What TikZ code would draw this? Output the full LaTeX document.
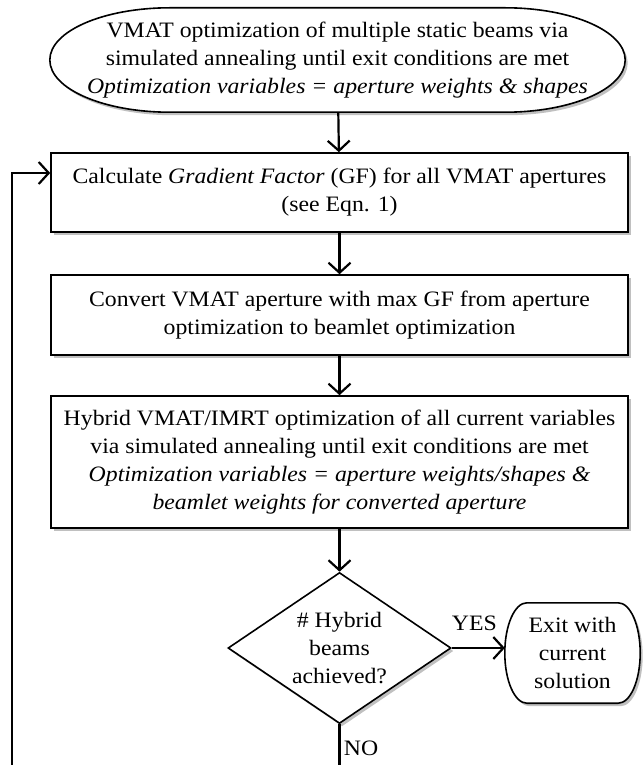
\documentclass[tikz,border=0pt]{standalone}
\usepackage{fontspec}
\setmainfont{Liberation Serif}[FakeStretch=1.08]
\usetikzlibrary{positioning, shapes, arrows.meta, calc, shadows}

\begin{document}
\begin{tikzpicture}[x=1pt, y=-1pt,
    every node/.style={font=\fontsize{22}{28}\selectfont},
    shade/.style={drop shadow={shadow xshift=2.5pt, shadow yshift=-3pt, fill=black!45, opacity=0.55}},
    outline/.style={draw, line width=1.6pt, fill=white, shade},
    plain/.style={rectangle, inner sep=0pt, align=center},
    box/.style={rectangle, outline, minimum width=577pt, align=center},
    decision/.style={diamond, outline, inner sep=0pt, aspect=1.48, minimum width=223pt, minimum height=151pt, align=center},
    line/.style={line width=2.2pt},
    flow/.style={line, -{Straight Barb[length=10pt, width=22pt, line width=2.2pt]}}]
    \useasboundingbox (0,0) rectangle (644,765);

    % Oval start
    \path (337.5,60) node[plain, minimum width=575pt, minimum height=104pt] (start) {};
    \draw[outline] ([xshift=120pt]start.north west) -- ([xshift=-120pt]start.north east)
        .. controls +(66,0) and +(0,-29) .. (start.east)
        .. controls +(0,29) and +(66,0) .. ([xshift=-120pt]start.south east)
        -- ([xshift=120pt]start.south west)
        .. controls +(-66,0) and +(0,29) .. (start.west)
        .. controls +(0,-29) and +(-66,0) .. ([xshift=120pt]start.north west) -- cycle;
    \node[plain] at (start.center) {VMAT optimization of multiple static beams via\\simulated annealing until exit conditions are met\\\textit{Optimization variables = aperture weights \& shapes}};

    % Boxes
    \node[box, minimum height=79pt] (calc) at (339.5,192.5) {Calculate \textit{Gradient Factor} (GF) for all VMAT apertures\\(see Eqn. 1)};
    \node[box, minimum height=80pt] (convert) at (339.5,315) {Convert VMAT aperture with max GF from aperture\\optimization to beamlet optimization};
    \node[box, minimum height=132pt] (hybrid) at (339.5,462) {Hybrid VMAT/IMRT optimization of all current variables\\via simulated annealing until exit conditions are met\\\textit{Optimization variables = aperture weights/shapes \&}\\\textit{beamlet weights for converted aperture}};
    \node[decision] (check) at (339.5,648) {\# Hybrid\\beams\\achieved?};

    % Exit
    \path (572.5,653) node[plain, minimum width=135pt, minimum height=100pt] (exit) {};
    \draw[outline] ([xshift=22pt]exit.north west) -- ([xshift=-22pt]exit.north east)
        .. controls +(12,0) and +(0,-28) .. (exit.east)
        .. controls +(0,28) and +(12,0) .. ([xshift=-22pt]exit.south east)
        -- ([xshift=22pt]exit.south west)
        .. controls +(-12,0) and +(0,28) .. (exit.west)
        .. controls +(0,-28) and +(-12,0) .. ([xshift=22pt]exit.north west) -- cycle;
    \node[plain] at (exit.center) {Exit with\\current\\solution};

    \coordinate (noend) at (339.5,765);
    \coordinate (loopend) at (12,765);

    % Arrows
    \draw[flow] (start) -- (calc);
    \draw[flow] (calc) -- (convert);
    \draw[flow] (convert) -- (hybrid);
    \draw[flow] (hybrid) -- (check);
    \draw[flow] (check.east) -- node[above=13pt, xshift=-4pt] {YES} (check.east -| exit.west);
    \draw[line] (check.south) -- node[right, pos=0.6] {NO} (noend);
    \draw[flow] (loopend) |- ([yshift=19.5pt]calc.west);
\end{tikzpicture}
\end{document}
